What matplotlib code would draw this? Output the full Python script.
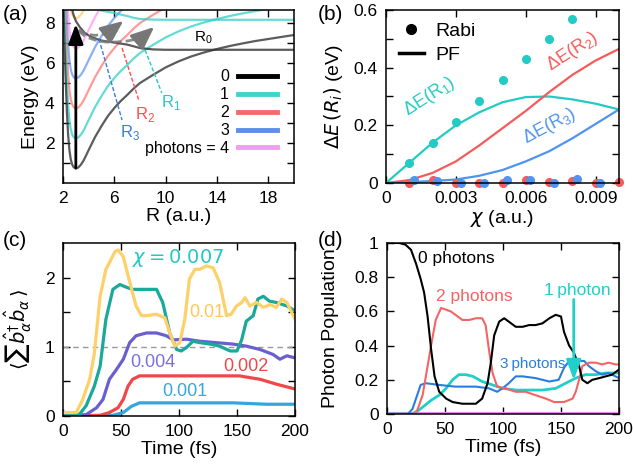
import matplotlib.pyplot as plt
from matplotlib.lines import Line2D

plt.rcParams['font.family'] = ['Liberation Sans', 'DejaVu Sans']
plt.rcParams['mathtext.fontset'] = 'dejavusans'
plt.rcParams['axes.linewidth'] = 1.1

# ---------------- (a) potential energy curves ----------------
r_grid = [2.05, 2.1, 2.2, 2.3, 2.4, 2.5, 2.6, 2.7, 2.8, 2.9, 3.0, 3.1, 3.2, 3.4, 3.6,
          3.8, 4.0, 4.5, 5.0, 5.5, 6.0, 6.5, 7.0, 7.5, 8.0, 9.0, 10, 11, 12, 13, 14,
          15, 16, 17, 18, 19, 20]
e_ph0 = [8.7, 7.4, 5.3, 3.6, 2.4, 1.65, 1.2, 0.95, 0.82, 0.76, 0.74, 0.75, 0.78, 0.92, 1.12,
         1.38, 1.65, 2.3, 2.85, 3.35, 3.75, 4.1, 4.4, 4.72, 5.0, 5.4, 5.78, 6.08, 6.33, 6.53, 6.7,
         6.85, 6.98, 7.1, 7.2, 7.3, 7.4]
e_ph1 = [10.2, 8.9, 6.8, 5.1, 3.9, 3.15, 2.7, 2.45, 2.32, 2.26, 2.24, 2.25, 2.28, 2.42, 2.62,
         2.88, 3.15, 3.8, 4.35, 4.85, 5.25, 5.6, 5.9, 6.22, 6.5, 6.9, 7.28, 7.58, 7.83, 8.03, 8.2,
         8.35, 8.48, 8.6, 8.7, 8.8, 8.9]
e_ph2 = [11.7, 10.4, 8.3, 6.6, 5.4, 4.65, 4.2, 3.95, 3.82, 3.76, 3.74, 3.75, 3.78, 3.92, 4.12,
         4.38, 4.65, 5.3, 5.85, 6.35, 6.75, 7.1, 7.4, 7.72, 8.0, 8.4, 8.78, 9.08, 9.33, 9.53, 9.7,
         9.85, 9.98, 10.1, 10.2, 10.3, 10.4]
e_ph3 = [13.2, 11.9, 9.8, 8.1, 6.9, 6.15, 5.7, 5.45, 5.32, 5.26, 5.24, 5.25, 5.28, 5.42, 5.62,
         5.88, 6.15, 6.8, 7.35, 7.85, 8.25, 8.6, 8.9, 9.22, 9.5, 9.9, 10.3, 10.6, 10.8, 11.0, 11.2,
         11.4, 11.5, 11.6, 11.7, 11.8, 11.9]
e_ph4 = [14.7, 13.4, 11.3, 9.6, 8.4, 7.65, 7.2, 6.95, 6.82, 6.76, 6.74, 6.75, 6.78, 6.92, 7.12,
         7.38, 7.65, 8.3, 8.85, 9.35, 9.75, 10.1, 10.4, 10.7, 11.0, 11.4, 11.8, 12.1, 12.3, 12.5, 12.7,
         12.9, 13.0, 13.1, 13.2, 13.3, 13.4]
e_ph5 = [16.2, 14.9, 12.8, 11.1, 9.9, 9.15, 8.7, 8.45, 8.32, 8.26, 8.24, 8.25, 8.28, 8.42, 8.62,
         8.88, 9.15, 9.8, 10.4, 10.9, 11.3, 11.6, 11.9, 12.2, 12.5, 12.9, 13.3, 13.6, 13.8, 14.0, 14.2,
         14.4, 14.5, 14.6, 14.7, 14.8, 14.9]

r_exc0 = [2.6, 2.7, 2.8, 3.0, 3.3, 3.7, 4.2, 5.0, 6.0, 7.0, 8.0, 9.0, 10, 12, 14, 16, 18, 20]
e_exc0 = [9.2, 8.75, 8.45, 8.1, 7.8, 7.5, 7.3, 7.12, 7.02, 6.92, 6.75, 6.68, 6.66, 6.66, 6.66,
          6.66, 6.66, 6.66]
r_exc1 = [5.0, 5.5, 6.0, 6.5, 7.0, 7.5, 8.0, 9.0, 10, 12, 14, 16, 18, 20]
e_exc1 = [8.62, 8.56, 8.5, 8.42, 8.35, 8.26, 8.2, 8.17, 8.16, 8.16, 8.16, 8.16, 8.16, 8.16]

wave_short_r = [3.2, 3.8, 4.5, 5.2, 5.8]
wave_short_e = [7.65, 7.45, 7.38, 7.45, 7.65]
wave_long_r = [3.2, 3.8, 4.5, 5.3, 6.2, 7.0, 7.8, 8.3]
wave_long_e = [7.6, 7.3, 7.15, 7.05, 7.05, 7.1, 7.2, 7.35]

# crossing markers: (start R, start E, end R, end E, label R, label E)
cross_r1 = [8.4, 6.65, 9.7, 4.5, 10.4, 4.0]
cross_r2 = [6.6, 6.75, 7.9, 4.15, 8.4, 3.45]
cross_r3 = [4.8, 7.2, 6.6, 3.15, 7.2, 2.5]

# ---------------- (b) energy gaps ----------------
chi_line = [0, 0.001, 0.002, 0.003, 0.004, 0.005, 0.006, 0.007, 0.008, 0.009, 0.010]
gap_r1_pf = [0, 0.07, 0.14, 0.20, 0.245, 0.28, 0.298, 0.30, 0.29, 0.275, 0.255]
gap_r2_pf = [0, 0.01, 0.035, 0.075, 0.13, 0.19, 0.25, 0.315, 0.375, 0.425, 0.465]
gap_r3_pf = [0, 0.003, 0.007, 0.012, 0.025, 0.045, 0.075, 0.11, 0.155, 0.205, 0.255]
chi_rabi1 = [0.001, 0.002, 0.003, 0.004, 0.005, 0.006, 0.007, 0.008]
gap_r1_rabi = [0.07, 0.14, 0.21, 0.285, 0.357, 0.43, 0.50, 0.57]
chi_rabi2 = [0.001, 0.002, 0.003, 0.004, 0.005, 0.006, 0.007, 0.008, 0.009, 0.010]
gap_r2_rabi = [0.0, 0.01, 0.0, 0.0, 0.0, 0.01, 0.005, 0.008, 0.0, 0.003]
chi_rabi3 = [0.0012, 0.0022, 0.0032, 0.0042, 0.0052, 0.0062, 0.0072, 0.0082, 0.0092]
gap_r3_rabi = [0.01, 0.008, 0.0, 0.0, 0.01, 0.012, 0.0, 0.015, 0.0]

# ---------------- (c) photon number ----------------
t_y = [0, 11.5, 17, 23, 27, 32, 37, 45, 47.5, 52, 57, 63, 67.6, 72, 80.5, 87.8, 92, 96.4, 100.7,
       105, 109, 113.7, 118, 123.7, 129.5, 135, 141, 145, 149.6, 154, 157, 161, 167, 172.7,
       178.4, 184, 188.5, 193, 200]
n_y = [0.05, 0.05, 0.24, 0.53, 0.9, 1.73, 2.12, 2.38, 2.4, 2.3, 1.97, 1.59, 1.45, 1.45, 1.47,
       1.42, 1.2, 1.01, 1.06, 1.4, 1.98, 2.12, 2.12, 2.17, 2.14, 1.93, 1.45, 1.47, 1.59, 1.64,
       1.71, 1.59, 1.64, 1.57, 1.61, 1.57, 1.69, 1.64, 1.4]
t_g = [0, 14, 20, 27, 32, 37, 43, 49, 54.7, 60, 72, 80.6, 86, 92, 98, 102, 106.5, 112, 118,
       126.6, 135, 144, 150, 154, 158, 164, 168, 172.7, 178, 184, 193, 200]
n_g = [0, 0.02, 0.15, 0.43, 0.72, 1.4, 1.83, 1.9, 1.86, 1.83, 1.83, 1.83, 1.64, 1.2, 0.96, 0.94,
       0.99, 1.08, 1.06, 1.04, 1.01, 0.94, 0.94, 1.1, 1.37, 1.45, 1.69, 1.73, 1.66, 1.64, 1.59, 1.52]
t_p = [0, 20, 29, 34.5, 40, 46, 52, 57.5, 63, 72, 80.6, 89, 95, 106.5, 118, 132, 146, 158, 170,
       181, 187, 193, 200]
n_p = [0, 0.02, 0.12, 0.24, 0.53, 0.67, 0.82, 1.06, 1.16, 1.2, 1.2, 1.16, 1.1, 1.11, 1.08, 1.06,
       1.04, 1.01, 0.96, 0.89, 0.82, 0.87, 0.84]
t_r = [0, 32, 40, 47.5, 52, 56, 60, 66, 75, 118, 152, 170, 184, 200]
n_r = [0, 0.01, 0.05, 0.12, 0.24, 0.43, 0.53, 0.58, 0.58, 0.58, 0.58, 0.53, 0.46, 0.39]
t_b = [0, 43, 52, 59, 66, 89, 146.7, 175.5, 200]
n_b = [0, 0.01, 0.05, 0.14, 0.19, 0.19, 0.19, 0.17, 0.17]

# ---------------- (d) photon populations ----------------
t_d0 = [0, 10.6, 16, 20.7, 25, 29, 32, 35, 38, 41, 45, 51, 56.5, 65, 76.6, 82, 86.7, 89.5,
        92.4, 96.7, 101, 105, 111, 117, 122.5, 128, 134, 140, 145.5, 150, 152.6, 157, 161,
        165.6, 168.4, 172.7, 177, 183, 188.5, 194, 200]
p_d0 = [1.0, 1.0, 0.99, 0.96, 0.88, 0.79, 0.71, 0.57, 0.38, 0.22, 0.13, 0.09, 0.07, 0.06, 0.06,
        0.09, 0.18, 0.3, 0.46, 0.54, 0.56, 0.54, 0.51, 0.51, 0.52, 0.52, 0.53, 0.56, 0.58, 0.57,
        0.48, 0.4, 0.36, 0.28, 0.2, 0.18, 0.2, 0.21, 0.22, 0.23, 0.26]
t_d2 = [0, 22, 26, 30.7, 35, 38, 42, 46.6, 51, 55, 59, 65, 71, 76.6, 82, 85, 88, 91, 95, 102,
        111, 119.6, 128, 137, 144, 152.6, 160, 162.7, 165.6, 168.4, 174, 180, 185.6, 191, 197, 200]
p_d2 = [0, 0, 0.02, 0.11, 0.28, 0.4, 0.55, 0.62, 0.61, 0.6, 0.58, 0.55, 0.55, 0.56, 0.56, 0.52,
        0.37, 0.24, 0.16, 0.15, 0.13, 0.13, 0.11, 0.09, 0.07, 0.07, 0.09, 0.13, 0.2, 0.28, 0.3,
        0.3, 0.29, 0.3, 0.29, 0.29]
t_d3 = [0, 18, 22, 25, 29, 33.5, 45, 59, 76.6, 88, 95, 99.5, 105, 111, 117, 128, 140, 148,
        152.6, 157, 161, 165.6, 170, 174, 180, 185.6, 191, 200]
p_d3 = [0, 0, 0.03, 0.09, 0.17, 0.18, 0.17, 0.16, 0.16, 0.15, 0.13, 0.15, 0.18, 0.22, 0.22, 0.21,
        0.19, 0.2, 0.27, 0.31, 0.3, 0.31, 0.31, 0.28, 0.25, 0.23, 0.24, 0.21]
t_d1 = [0, 20.7, 25, 30.7, 38, 45, 51, 56.5, 62, 68, 74, 82, 91, 99.5, 111, 122.5, 134, 145.5,
        154, 162.7, 171, 180, 188.5, 200]
p_d1 = [0, 0, 0.01, 0.04, 0.08, 0.11, 0.15, 0.2, 0.23, 0.23, 0.22, 0.19, 0.17, 0.15, 0.14, 0.14,
        0.14, 0.15, 0.18, 0.21, 0.23, 0.23, 0.24, 0.24]
t_d4 = [0, 200]
p_d4 = [0.004, 0.004]

fig = plt.figure(figsize=(6.33, 4.72), dpi=100)
W, H = 633, 472


def box(l, r, t, b):
    return [l / W, 1 - b / H, (r - l) / W, (b - t) / H]


ax_a = fig.add_axes(box(63, 294, 10, 183))
ax_b = fig.add_axes(box(386, 619, 10, 183))
ax_c = fig.add_axes(box(63, 295, 243, 416))
ax_d = fig.add_axes(box(387, 619, 243, 414))

for ax in (ax_a, ax_b, ax_c, ax_d):
    ax.tick_params(direction='in', top=True, right=True, length=5, width=1,
                   labelsize=12.5, pad=6)

# ---- (a)
ax_a.plot(r_grid, e_ph5, color='#ffc040', lw=1.6, alpha=0.6)
ax_a.plot(r_grid, e_ph4, color='#ff80ee', lw=1.6, alpha=0.6)
ax_a.plot(r_grid, e_ph3, color='#5a90ee', lw=1.6, alpha=0.7)
ax_a.plot(r_grid, e_ph2, color='#ff6464', lw=1.6, alpha=0.65)
ax_a.plot(r_exc1, e_exc1, color='#30cfc6', lw=1.6, alpha=0.75)
ax_a.plot(r_grid, e_ph1, color='#30cfc6', lw=1.6, alpha=0.75)
ax_a.plot(r_exc0, e_exc0, color='#333333', lw=1.6, alpha=0.8)
ax_a.plot(r_grid, e_ph0, color='#333333', lw=1.6, alpha=0.8)

ax_a.plot(wave_short_r, wave_short_e, color='#777777', lw=2, ls=(0, (3, 1.5)), alpha=0.85)
ax_a.plot(wave_long_r, wave_long_e, color='#777777', lw=2, ls=(0, (3, 1.5)), alpha=0.85)
ax_a.annotate('', xy=(6.7, 8.1), xytext=(wave_short_r[-1], wave_short_e[-1]),
              arrowprops=dict(arrowstyle='-|>,head_length=1.4,head_width=0.6', color='#777777',
                              lw=2, shrinkA=0, shrinkB=0))
ax_a.annotate('', xy=(9.1, 7.8), xytext=(wave_long_r[-1], wave_long_e[-1]),
              arrowprops=dict(arrowstyle='-|>,head_length=1.4,head_width=0.6', color='#777777',
                              lw=2, shrinkA=0, shrinkB=0))
ax_a.annotate('', xy=(3.0, 7.95), xytext=(3.0, 0.74),
              arrowprops=dict(arrowstyle='-|>,head_length=1.2,head_width=0.45', color='black',
                              lw=2, shrinkA=0, shrinkB=0))

for c, col in ((cross_r1, '#22cbc3'), (cross_r2, '#ff4d4d'), (cross_r3, '#3a7ee0')):
    ax_a.plot([c[0], c[2]], [c[1], c[3]], color=col, lw=1, ls=(0, (3, 1.5)))
ax_a.text(cross_r1[4], cross_r1[5], r'R$_\mathregular{1}$', color='#22cbc3', fontsize=12,
          ha='center', va='center')
ax_a.text(cross_r2[4], cross_r2[5], r'R$_\mathregular{2}$', color='#ff4d4d', fontsize=12,
          ha='center', va='center')
ax_a.text(cross_r3[4], cross_r3[5], r'R$_\mathregular{3}$', color='#3a7ee0', fontsize=12,
          ha='center', va='center')
ax_a.text(12.9, 7.25, r'R$_\mathregular{0}$', color='black', fontsize=11, ha='center',
          va='center')

handles = [Line2D([], [], color=c, lw=3.5) for c in
           ('black', '#3fd3cb', '#f76a6a', '#5b8fe8', '#f59cf0')]
ax_a.legend(handles, ['0', '1', '2', '3', 'photons = 4'], loc='lower right',
            bbox_to_anchor=(0.96, 0.11), frameon=False, markerfirst=False, fontsize=11.5,
            handlelength=2.4, labelspacing=0.18, borderpad=0, handletextpad=0.6)

ax_a.set_xlim(2, 20)
ax_a.set_ylim(0, 8.65)
ax_a.set_xticks([2, 6, 10, 14, 18])
ax_a.set_yticks([1, 2, 3, 4, 5, 6, 7, 8])
ax_a.set_yticklabels(['', '2', '', '4', '', '6', '', '8'])
ax_a.set_xlabel('R (a.u.)', fontsize=14, labelpad=1)
ax_a.set_ylabel('Energy (eV)', fontsize=14, labelpad=4)

# ---- (b)
ax_b.plot(chi_line, gap_r1_pf, color='#22cbc3', lw=1.6)
ax_b.plot(chi_line, gap_r2_pf, color='#f55b5b', lw=1.6)
ax_b.plot(chi_line, gap_r3_pf, color='#4f94f0', lw=1.6)
ax_b.plot(chi_rabi2, gap_r2_rabi, 'o', color='#f55b5b', ms=5.5, clip_on=False)
ax_b.plot(chi_rabi3, gap_r3_rabi, 'o', color='#4f94f0', ms=5.5, clip_on=False)
ax_b.plot(chi_rabi1, gap_r1_rabi, 'o', color='#22cbc3', ms=5.5, clip_on=False)
ax_b.text(0.00185, 0.30, r'ΔE(R$_\mathregular{1}$)', color='#22cbc3', fontsize=13,
          rotation=33, ha='center', va='center')
ax_b.text(0.0080, 0.456, r'ΔE(R$_\mathregular{2}$)', color='#f55b5b', fontsize=13,
          rotation=33, ha='center', va='center')
ax_b.text(0.0070, 0.196, r'ΔE(R$_\mathregular{3}$)', color='#4f94f0', fontsize=13,
          rotation=28, ha='center', va='center')
leg_b = [Line2D([], [], color='black', marker='o', ls='none', ms=7),
         Line2D([], [], color='black', lw=2.5)]
ax_b.legend(leg_b, ['Rabi', 'PF'], loc='upper left', frameon=False, fontsize=14,
            handlelength=1.3, handletextpad=0.6, labelspacing=0.3, borderaxespad=0.25)
ax_b.set_xlim(0, 0.01)
ax_b.set_ylim(0, 0.6)
ax_b.set_xticks([0, 0.003, 0.006, 0.009])
ax_b.set_xticklabels(['0', '0.003', '0.006', '0.009'])
ax_b.set_yticks([0, 0.1, 0.2, 0.3, 0.4, 0.5, 0.6])
ax_b.set_yticklabels(['0', '', '0.2', '', '0.4', '', '0.6'])
ax_b.set_xlabel(r'$\chi$ (a.u.)', fontsize=14, labelpad=1)
ax_b.set_ylabel(r'$\Delta E\,(R_i)$ (eV)', fontsize=14, labelpad=6)

# ---- (c)
ax_c.axhline(1, color='#999999', lw=1, ls=(0, (4, 3)))
ax_c.plot(t_b, n_b, color='#35a5dd', lw=2.3)
ax_c.plot(t_r, n_r, color='#f04848', lw=2.3)
ax_c.plot(t_p, n_p, color='#6a5fd0', lw=2.3)
ax_c.plot(t_g, n_g, color='#1aa898', lw=2.3)
ax_c.plot(t_y, n_y, color='#fdd06a', lw=2.3)
ax_c.text(99, 2.29, r'$\chi = 0.007$', color='#22c8c4', fontsize=14, ha='center', va='center')
ax_c.text(124, 1.5, '0.01', color='#fcc85a', fontsize=13, ha='center', va='center')
ax_c.text(77.5, 0.78, '0.004', color='#7b6fe0', fontsize=13, ha='center', va='center')
ax_c.text(158, 0.72, '0.002', color='#f04848', fontsize=13, ha='center', va='center')
ax_c.text(105, 0.36, '0.001', color='#34a8e0', fontsize=13, ha='center', va='center')
ax_c.set_xlim(0, 200)
ax_c.set_ylim(0, 2.5)
ax_c.set_xticks([0, 50, 100, 150, 200])
ax_c.set_yticks([0, 0.5, 1, 1.5, 2])
ax_c.set_yticklabels(['0', '', '1', '', '2'])
ax_c.set_xlabel('Time (fs)', fontsize=14, labelpad=1)
ax_c.set_ylabel(r'$\langle$' + '\u2211' + r'$\hat{b}^{\dagger}_{\alpha}\hat{b}_{\alpha}\,\rangle$',
                fontsize=14, labelpad=8)

# ---- (d)
ax_d.plot(t_d4, p_d4, color='#ee88ee', lw=1.6)
ax_d.plot(t_d1, p_d1, color='#20cfc8', lw=2.0)
ax_d.plot(t_d3, p_d3, color='#2a7de0', lw=1.5)
ax_d.plot(t_d2, p_d2, color='#f46464', lw=1.5)
ax_d.plot(t_d0, p_d0, color='black', lw=1.5)
ax_d.text(26.7, 0.91, '0 photons', color='black', fontsize=12.5, ha='left', va='center')
ax_d.text(42, 0.69, '2 photons', color='#f46464', fontsize=12.5, ha='left', va='center')
ax_d.text(135.5, 0.72, '1\u2009photon', color='#20cfc8', fontsize=12.5, ha='left', va='center')
ax_d.text(97.4, 0.29, '3\u2009photons', color='#2a7de0', fontsize=11, ha='left', va='center')
ax_d.annotate('', xy=(161, 0.2), xytext=(161, 0.67),
              arrowprops=dict(arrowstyle='-|>,head_length=1.2,head_width=0.45', color='#20cfc8',
                              lw=2, shrinkA=0, shrinkB=0))
ax_d.set_xlim(0, 200)
ax_d.set_ylim(0, 1.0)
ax_d.set_xticks([0, 50, 100, 150, 200])
ax_d.set_yticks([0, 0.2, 0.4, 0.6, 0.8, 1.0])
ax_d.set_yticklabels(['0', '0.2', '0.4', '0.6', '0.8', '1'])
ax_d.set_xlabel('Time (fs)', fontsize=14, labelpad=1)
ax_d.set_ylabel('Photon Population', fontsize=14, labelpad=11)

fig.text(3 / W, 1 - 14 / H, '(a)', fontsize=15, va='center', ha='left')
fig.text(318 / W, 1 - 14 / H, '(b)', fontsize=15, va='center', ha='left')
fig.text(3 / W, 1 - 240 / H, '(c)', fontsize=15, va='center', ha='left')
fig.text(318 / W, 1 - 240 / H, '(d)', fontsize=15, va='center', ha='left')

fig.savefig('out.png', dpi=100)
